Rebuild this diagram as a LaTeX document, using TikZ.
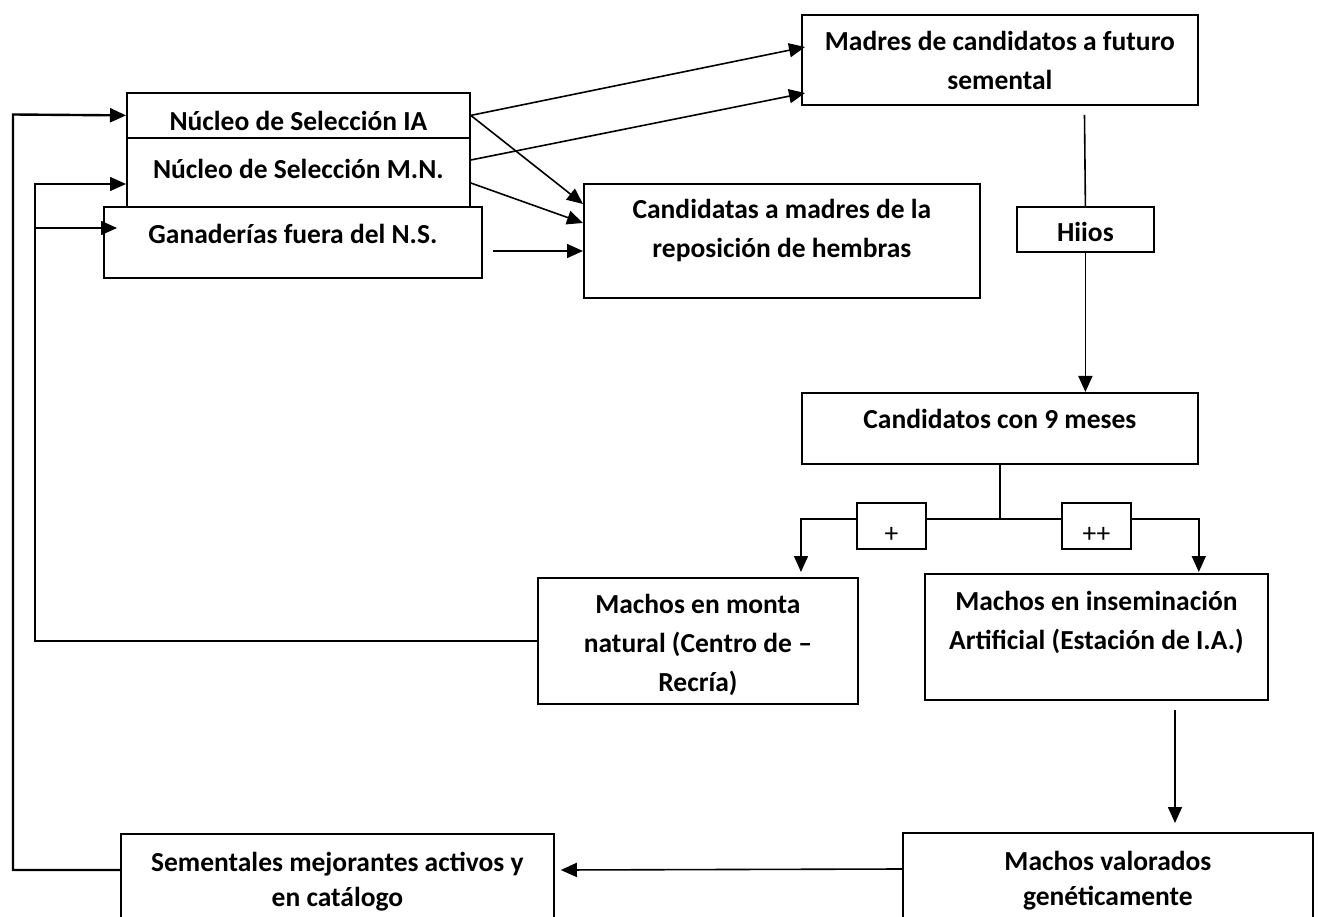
\documentclass[tikz,border=0pt]{standalone}
\usepackage{fontspec}
\setmainfont{Carlito}
\usetikzlibrary{positioning,calc,arrows.meta}
\tikzset{% 
    blk/.style={draw,line width=1.8pt,inner sep=0pt,anchor=north west},
    txt/.style={inner sep=0pt,align=center,font=\fontsize{27.5}{39}\selectfont\bfseries},
    txtb/.style={inner sep=0pt,align=center,font=\fontsize{27.5}{35}\selectfont\bfseries},
    sgn/.style={inner sep=0pt,font=\fontsize{27.5}{39}\selectfont},
    lnk/.style={line width=1.6pt},
    arr/.style={lnk,-{Triangle[length=16pt,width=14pt]}}
}

\begin{document}
\begin{tikzpicture}[x=1pt,y=-1pt]
            \clip (0,0) rectangle (1318,917);
            \node[blk,minimum width=343pt,minimum height=45pt] (ia) at (126,92){};
            \node[blk,minimum width=343pt,minimum height=69pt] (mn) at (126,137){};
            \node[blk,minimum width=378pt,minimum height=71pt] (gan) at (103,206){};
            \node[blk,minimum width=396pt,minimum height=90pt] (madres) at (801,14){};
            \node[blk,minimum width=396pt,minimum height=114pt] (cand) at (583,183){};
            \node[blk,minimum width=137pt,minimum height=45pt] (hiios) at (1016,206){};
            \node[blk,minimum width=396pt,minimum height=71pt] (cand9) at (801,392){};
            \node[blk,minimum width=69pt,minimum height=46pt] (plus) at (856,502){};
            \node[blk,minimum width=69pt,minimum height=46pt] (pplus) at (1061,502){};
            \node[blk,minimum width=320pt,minimum height=126pt] (monta) at (537,577){};
            \node[blk,minimum width=343pt,minimum height=126pt] (mia) at (924,573){};
            \node[blk,minimum width=433pt,minimum height=150pt] (sem) at (120,833){};
            \node[blk,minimum width=410pt,minimum height=150pt] (val) at (902,832){};

            \node[txt,below=10.7pt of ia.north] (iat) {\strut Núcleo de Selección IA};
            \node[txt,below=13.7pt of mn.north] (mnt) {\strut Núcleo de Selección M.N.};
            \node[txt,below=9.7pt of gan.north] (gant) {\strut Ganaderías fuera del N.S.};
            \node[txt,below=8.7pt of madres.north] (madrest) {\strut Madres de candidatos a futuro\\ semental};
            \node[txt,below=7.7pt of cand.north] (candt) {\strut Candidatas a madres de la\\ reposición de hembras};
            \node[txt,below=7.7pt of hiios.north] (hiiost) {\strut Hiios};
            \node[txt,below=8.7pt of cand9.north] (cand9t) {\strut Candidatos con 9 meses};
            \node[sgn,below=12.5pt of plus.north] (plust) {\strut +};
            \node[sgn,below=12.5pt of pplus.north] (pplust) {\strut ++};
            \node[txt,below=8.7pt of monta.north] (montat) {\strut Machos en monta\\ natural (Centro de --\\ Recría)};
            \node[txt,below=9.7pt of mia.north] (miat) {\strut Machos en inseminación\\ Artificial (Estación de I.A.)};
            \node[txtb,below=13.5pt of sem.north] (semt) {\strut Sementales mejorantes activos y\\ en catálogo};
            \node[txtb,below=13.5pt of val.north] (valt) {\strut Machos valorados\\ genéticamente};

            \coordinate (h0) at (1084.5,115);
            \coordinate (v0) at (1175,710);
            \coordinate (l1) at (13,114.5);
            \coordinate (l2) at (35,184);
            \coordinate (l3) at (35,228);
            \coordinate (j) at ($(cand9.south)+(0,54)$);

            \draw[arr] (ia.east) -- ($(madres.north west)+(4,33)$);
            \draw[arr] ($(mn.north east)+(0,23)$) -- ($(madres.north west)+(4,79)$);
            \draw[arr] (ia.east) -- ($(cand.north west)+(0,21)$);
            \draw[arr] ($(mn.north east)+(0,46)$) -- ($(cand.north west)+(0,40)$);
            \draw[arr] ($(gan.north east)+(10,45)$) -- ($(cand.north west)+(0,68)$);

            \draw[lnk] (h0) -- (hiios.north);
            \draw[arr] (hiios.south) -- (hiios.south |- cand9.north);

            \draw[lnk] (cand9.south) -- (j);
            \draw[lnk] (plus.east |- j) -- (pplus.west |- j);
            \draw[arr] (plus.west |- j) -| ($(cand9.west |- monta.north)+(0,-5)$);
            \draw[arr] (pplus.east |- j) -| ($(cand9.east |- mia.north)+(0,-1)$);

            \draw[arr] (v0) -- ($(v0 |- val.north)+(0,-9)$);
            \draw[arr] ($(val.north west)+(0,37)$) -- ($(sem.north east)+(6,37)$);

            \draw[arr,line width=2.4pt] ($(sem.north west)+(0,37)$) -| (l1) -- (ia.west);
            \draw[arr] (monta.west) -| (l2) -- (l2 -| mn.west);
            \draw[arr] (l3) -- ($(gan.north west)+(14,22)$);
        \end{tikzpicture}
\end{document}
